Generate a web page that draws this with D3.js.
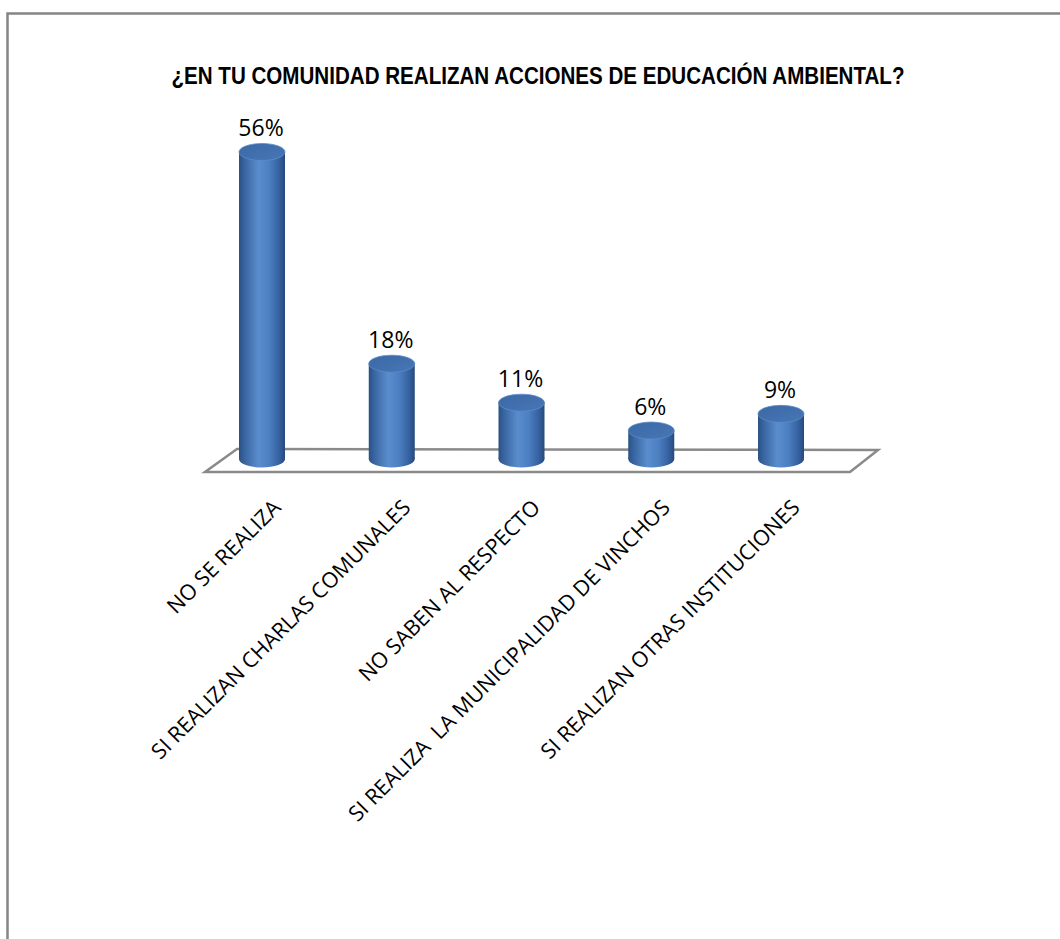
<!DOCTYPE html>
<html>
<head>
<meta charset="utf-8">
<script src="https://cdn.jsdelivr.net/npm/d3@7"></script>
<style>
  body { margin: 0; background: #fff; }
  svg { display: block; }
</style>
</head>
<body>
<svg></svg>
<script>
const width = 1060
const height = 939

const title = '¿EN TU COMUNIDAD REALIZAN ACCIONES DE EDUCACIÓN AMBIENTAL?'
const categories = [
	'NO SE REALIZA',
	'SI REALIZAN CHARLAS COMUNALES',
	'NO SABEN AL RESPECTO',
	'SI REALIZA  LA MUNICIPALIDAD DE VINCHOS',
	'SI REALIZAN OTRAS INSTITUCIONES'
]
const values = [56, 18, 11, 6, 9]
const valueLabels = ['56%', '18%', '11%', '6%', '9%']

const svg = d3.select('svg')
	.attr('width', width)
	.attr('height', height)

// outer frame
svg.append('rect')
	.attr('x', 7.5)
	.attr('y', 13.5)
	.attr('width', 1100)
	.attr('height', 1000)
	.attr('fill', 'none')
	.attr('stroke', '#858585')
	.attr('stroke-width', 2.5)

svg.append('text')
	.attr('x', 538)
	.attr('y', 84)
	.attr('text-anchor', 'middle')
	.attr('font-family', 'Liberation Sans Narrow, Arial Narrow, Liberation Sans, sans-serif')
	.attr('font-weight', 'bold')
	.attr('font-size', 23)
	.attr('textLength', 733)
	.attr('lengthAdjust', 'spacingAndGlyphs')
	.text(title)

const x = d3.scalePoint()
	.domain(categories)
	.range([262, 781])

const y = d3.scaleLinear()
	.domain([0, 56])
	.range([464, 152])

const floorY = 459
const rx = 23
const ry = 8.5

const defs = svg.append('defs')
const grad = defs.append('linearGradient')
	.attr('id', 'cyl')
	.attr('x1', 0).attr('x2', 1).attr('y1', 0).attr('y2', 0)
const stops = [
	[0, '#2a5184'],
	[0.12, '#3965a0'],
	[0.42, '#5a8dcd'],
	[0.65, '#4d80c2'],
	[0.88, '#3560a0'],
	[1, '#27497a']
]
grad.selectAll('stop')
	.data(stops)
	.enter()
	.append('stop')
	.attr('offset', d => d[0])
	.attr('stop-color', d => d[1])

const capGrad = defs.append('linearGradient')
	.attr('id', 'cap')
	.attr('x1', 0).attr('x2', 1).attr('y1', 0).attr('y2', 1)
capGrad.append('stop').attr('offset', 0).attr('stop-color', '#3b68a5')
capGrad.append('stop').attr('offset', 1).attr('stop-color', '#4877b6')

// floor
const floor = [[237, 449], [878, 450], [850, 472], [205, 472]]
svg.append('path')
	.attr('d', 'M' + floor.join('L') + 'Z')
	.attr('fill', '#fff')
	.attr('stroke', '#8a8a8a')
	.attr('stroke-width', 2.5)

const bars = svg.append('g')
	.selectAll('g')
	.data(values)
	.enter()
	.append('g')

bars.append('ellipse')
	.attr('cx', (d, i) => x(categories[i]))
	.attr('cy', floorY)
	.attr('rx', rx)
	.attr('ry', ry)
	.attr('fill', 'url(#cyl)')

bars.append('rect')
	.attr('x', (d, i) => x(categories[i]) - rx)
	.attr('y', d => y(d))
	.attr('width', rx * 2)
	.attr('height', d => floorY - y(d))
	.attr('fill', 'url(#cyl)')

bars.append('ellipse')
	.attr('cx', (d, i) => x(categories[i]))
	.attr('cy', d => y(d))
	.attr('rx', rx)
	.attr('ry', ry)
	.attr('fill', 'url(#cap)')
	.attr('stroke', '#5c8cc8')
	.attr('stroke-width', 0.8)

bars.append('text')
	.attr('x', (d, i) => x(categories[i]) - 1)
	.attr('y', d => y(d) - 16)
	.attr('text-anchor', 'middle')
	.attr('font-family', 'Open Sans, sans-serif')
	.attr('font-size', 23)
	.attr('fill', '#000')
	.text((d, i) => valueLabels[i])

// category labels
svg.append('g')
	.selectAll('text')
	.data(categories)
	.enter()
	.append('text')
	.attr('transform', d => 'translate(' + (x(d) + 20) + ',509) rotate(-45)')
	.attr('text-anchor', 'end')
	.attr('font-family', 'Open Sans, sans-serif')
	.attr('font-size', 21.5)
	.attr('fill', '#000')
	.style('white-space', 'pre')
	.text(d => d)
</script>
</body>
</html>
